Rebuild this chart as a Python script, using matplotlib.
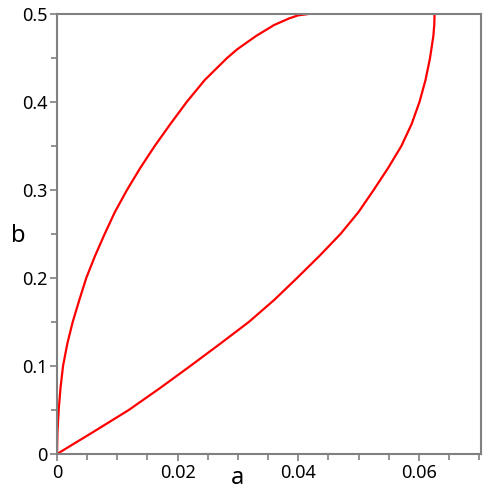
import matplotlib
matplotlib.use("Agg")
import matplotlib.pyplot as plt
from matplotlib.ticker import MultipleLocator, FixedLocator

# Left curve (a, b)
left_b = [0.0, 0.025, 0.05, 0.075, 0.1, 0.125, 0.15, 0.175, 0.2, 0.225,
          0.25, 0.275, 0.3, 0.325, 0.35, 0.375, 0.4, 0.425, 0.45, 0.46,
          0.475, 0.4875, 0.495, 0.4985, 0.5]
left_a = [0.0, 0.00008, 0.00028, 0.00058, 0.001, 0.0017, 0.0026, 0.0037,
          0.00485, 0.0063, 0.0079, 0.0096, 0.0116, 0.0138, 0.0162, 0.0188,
          0.0215, 0.0245, 0.0282, 0.0299, 0.033, 0.036, 0.0385, 0.0400,
          0.0417]

# Right curve (a, b)
right_b = [0.0, 0.025, 0.05, 0.075, 0.1, 0.125, 0.15, 0.175, 0.2, 0.225,
           0.25, 0.275, 0.3, 0.325, 0.35, 0.375, 0.4, 0.425, 0.45, 0.475,
           0.4875, 0.5]
right_a = [0.0, 0.006, 0.0119, 0.0171, 0.0221, 0.0270, 0.0318, 0.0360,
           0.0398, 0.0435, 0.0470, 0.0500, 0.0525, 0.0549, 0.0571, 0.0588,
           0.0601, 0.0611, 0.06185, 0.0624, 0.06255, 0.0626]

x_ticks = [0, 0.02, 0.04, 0.06]
x_tick_labels = ["0", "0.02", "0.04", "0.06"]
y_ticks = [0, 0.1, 0.2, 0.3, 0.4, 0.5]
y_tick_labels = ["0", "0.1", "0.2", "0.3", "0.4", "0.5"]

plt.rcParams['font.family'] = ['Noto Sans', 'DejaVu Sans']

fig = plt.figure(figsize=(5, 5), dpi=100)
ax = fig.add_axes([0.114, 0.092, 0.848, 0.880])

ax.plot(left_a, left_b, color='red', lw=1.6, solid_joinstyle='round',
        solid_capstyle='butt')
ax.plot(right_a, right_b, color='red', lw=1.6, solid_joinstyle='round',
        solid_capstyle='butt')

ax.set_xlim(0, 0.0703)
ax.set_ylim(0, 0.5)

gray = '#808080'
for s in ax.spines.values():
    s.set_color(gray)
    s.set_linewidth(1.5)

ax.xaxis.set_major_locator(FixedLocator(x_ticks))
ax.set_xticklabels(x_tick_labels)
ax.yaxis.set_major_locator(FixedLocator(y_ticks))
ax.set_yticklabels(y_tick_labels)
ax.xaxis.set_minor_locator(MultipleLocator(0.005))
ax.yaxis.set_minor_locator(MultipleLocator(0.05))

ax.tick_params(which='both', direction='out', color=gray, width=1.2,
               top=False, right=False)
ax.tick_params(which='major', length=5, labelsize=13, pad=2, labelcolor='black')
ax.tick_params(which='minor', length=4)

fig.text(238 / 500, 1 - 478 / 500, 'a', fontsize=17, ha='center', va='center')
fig.text(18 / 500, 1 - 236 / 500, 'b', fontsize=17, ha='center', va='center')

fig.savefig('out.png', dpi=100)
